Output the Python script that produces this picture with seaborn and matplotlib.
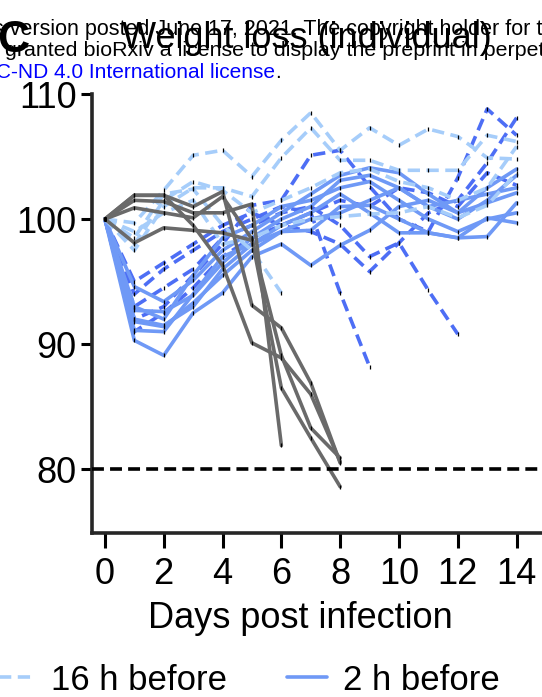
import numpy as np
import pandas as pd
import matplotlib.pyplot as plt
import seaborn as sns
from matplotlib.lines import Line2D

days = list(range(15))

# body weight (% of day 0), one list per mouse
untreated = [
    [100, 101.9, 101.9, 101.0, 102.2, 93.1, 91.3, 86.9, 80.5],
    [100, 101.5, 101.4, 100.5, 100.5, 101.2, 81.9],
    [100, 100.9, 100.5, 100.1, 101.8, 98.4, 86.5, 82.5, 78.6],
    [100, 98.1, 99.3, 99.1, 98.9, 98.3, 89.1, 83.3, 80.9],
    [100, 101.9, 101.9, 99.5, 96.3, 90.1, 88.9, 86.0, 80.6],
]
before_16h = [
    [100, 99.7, 102.3, 105.1, 105.5, 103.4, 106.3, 108.5, 105.5, 107.3, 105.9, 107.2, 106.6, 104.9, 104.8],
    [100, 97.5, 101.0, 102.5, 102.5, 101.8, 104.9, 107.3, 104.7, 104.7, 103.9, 103.9, 103.9, 106.7, 106.2],
    [100, 98.5, 102.0, 102.4, 99.5, 97.5, 94.1],
    [100, 99.0, 100.5, 101.5, 98.0, 98.5, 99.5, 100.0, 100.2, 100.4, 100.5, 101.0, 100.1, 101.1, 103.7],
    [100, 98.0, 101.5, 103.0, 102.3, 100.5, 101.5, 102.5, 103.7, 104.0, 103.0, 102.5, 101.5, 102.5, 105.8],
]
before_2h = [
    [100, 94.6, 93.4, 95.1, 97.5, 99.0, 100.5, 102.0, 103.5, 104.1, 103.7, 102.0, 100.5, 101.3, 102.1],
    [100, 92.7, 92.6, 93.9, 96.5, 98.5, 100.0, 101.0, 103.1, 103.5, 102.5, 101.0, 100.0, 101.5, 103.5],
    [100, 91.8, 91.4, 93.3, 95.5, 97.5, 99.0, 99.1, 101.0, 101.1, 100.0, 98.9, 98.5, 100.1, 99.7],
    [100, 91.1, 91.0, 94.0, 97.0, 98.0, 99.5, 100.5, 102.0, 100.5, 98.9, 98.9, 98.5, 98.6, 101.3],
    [100, 90.3, 89.1, 92.5, 94.1, 97.0, 98.0, 96.3, 97.9, 99.1, 101.0, 101.5, 100.5, 102.5, 104.0],
    [100, 93.0, 92.0, 95.5, 98.5, 99.5, 101.0, 101.5, 102.5, 103.0, 101.5, 100.0, 99.0, 100.0, 100.5],
    [100, 92.0, 91.5, 93.0, 96.0, 98.0, 99.0, 100.0, 100.5, 101.5, 102.5, 101.0, 101.5, 102.0, 102.5],
]
other_dashed = [
    [100, 94.0, 96.0, 97.5, 99.0, 100.0, 101.0, 100.5, 94.1, 88.2],
    [100, 93.0, 94.5, 96.0, 98.5, 99.5, 100.5, 101.0, 99.5, 97.0, 98.1, 94.3, 90.8],
    [100, 92.0, 93.0, 95.5, 98.0, 101.1, 101.5, 105.1, 105.5, 102.6, 100.0, 99.0, 103.3, 108.8, 106.7],
    [100, 95.0, 96.5, 98.0, 99.5, 100.5, 99.5, 99.0, 98.0, 95.8, 98.1, 100.5, 101.5, 104.5, 108.1],
    [100, 91.0, 92.5, 94.5, 97.0, 98.5, 99.5, 100.5, 101.5, 101.0, 102.5, 102.1, 101.0, 103.7, 102.7],
]

legend_labels = ["16 h before", "2 h before"]

c_gray = "#6a6a6a"
c_light = "#a6cdfa"
c_mid = "#6f99f6"
c_dark = "#4d6ef5"
dash = (0, (3.4, 1.8))

groups = [
    ("other", other_dashed, c_dark, dash),
    ("2 h before", before_2h, c_mid, "-"),
    ("16 h before", before_16h, c_light, dash),
    ("untreated", untreated, c_gray, "-"),
]

rows = []
for g, mice, _, _ in groups:
    for i, w in enumerate(mice):
        for d, v in zip(days, w):
            rows.append({"group": g, "mouse": f"{g}_{i}", "day": d, "weight": v})
df = pd.DataFrame(rows)

sns.set_style("ticks")
plt.rcParams["font.family"] = ["Liberation Sans", "DejaVu Sans"]
plt.rcParams["text.color"] = "k"

fig = plt.figure(figsize=(5.42, 6.97), dpi=100)
ax = fig.add_axes([92 / 542, 1 - 533 / 697, (546 - 92) / 542, (533 - 94) / 697])

for g, _, col, ls in groups:
    sub = df[df.group == g]
    sns.lineplot(data=sub, x="day", y="weight", units="mouse", estimator=None,
                 color=col, lw=2.6, linestyle=ls, ax=ax, legend=False)

sns.scatterplot(data=df, x="day", y="weight", marker="|", color="k", s=12,
                linewidth=0.9, ax=ax, legend=False, zorder=5)

ax.axhline(80, color="k", lw=2.6, ls=(0, (3.3, 1.7)), zorder=6)

ax.set_xlim(-0.44, 15)
ax.set_ylim(74.9, 110)
ax.set_xticks(range(0, 15, 2))
ax.set_yticks([80, 90, 100, 110])
sns.despine(ax=ax)
for s in ["left", "bottom"]:
    ax.spines[s].set_linewidth(2.6)
ax.tick_params(width=2.2, length=11, labelsize=26, color="k", labelcolor="k")
ax.tick_params(axis="x", pad=6)
ax.tick_params(axis="y", length=8, pad=3)
ax.set_xlabel("Days post infection", fontsize=26, color="k")
ax.xaxis.set_label_coords(0.46, -0.155)
ax.set_ylabel("")

# preprint header that overlaps the panel
fig.text(-0.012, 1 - 30 / 697, "s version posted June 17, 2021. The copyright holder for t",
         fontsize=15.5, va="center", ha="left")
fig.text(5 / 542, 1 - 51 / 697, "granted bioRxiv a license to display the preprint in perpet",
         fontsize=15.4, va="center", ha="left")
lic = fig.text(-0.008, 1 - 72 / 697, "C-ND 4.0 International license", color="#0000ff",
               fontsize=15, va="center", ha="left")
fig.canvas.draw()
bb = lic.get_window_extent().transformed(fig.transFigure.inverted())
fig.text(bb.x1, 1 - 72 / 697, ".", fontsize=15, va="center", ha="left")

fig.text(307 / 542, 1 - 38 / 697, "Weight loss (individual)", fontsize=26,
         ha="center", va="center")
fig.text(-0.006, 1 - 41 / 697, "C", fontsize=32, fontweight="bold", va="center", ha="left")

handles = [Line2D([], [], color=c_light, lw=2.6, ls=dash),
           Line2D([], [], color=c_mid, lw=2.6)]
fig.legend(handles, legend_labels, loc="center left", bbox_to_anchor=(-5 / 542, 1 - 680 / 697),
           ncol=2, frameon=False, fontsize=25, handlelength=1.15, handletextpad=0.45,
           columnspacing=1.75, borderpad=0, borderaxespad=0, labelcolor="k")

fig.savefig("out.png", dpi=100)
